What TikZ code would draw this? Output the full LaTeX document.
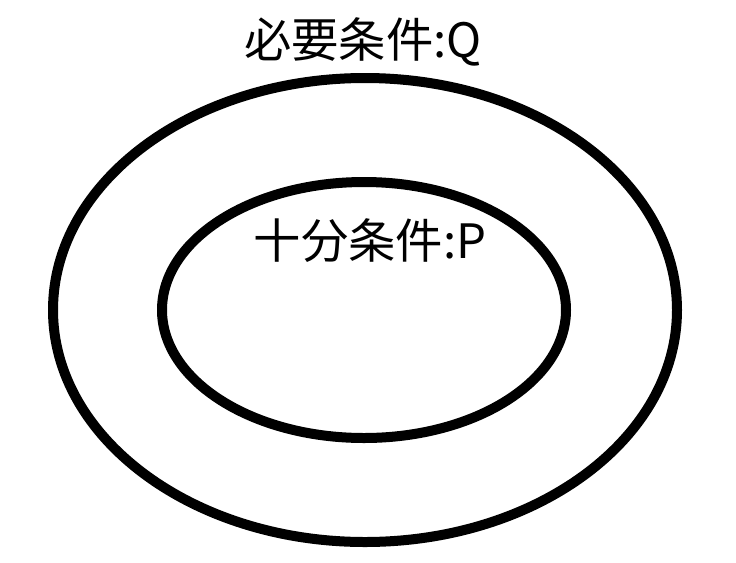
\documentclass[tikz,border=0pt]{standalone}
\usepackage{fontspec}
\setmainfont{Noto Sans CJK JP}
\usetikzlibrary{shapes.geometric}

\tikzset{
  ring/.style={draw, ellipse, line width=7.5pt, inner sep=0pt},
  setlabel/.style={inner sep=0pt, font=\fontsize{35.5}{40}\selectfont}
}

\begin{document}
\begin{tikzpicture}[x=0.75pt,y=-0.75pt]

    \useasboundingbox (0,0) rectangle (736,562);

    % Sets
    \node [ring, minimum width=468pt, minimum height=348pt] (Q) at (365,310) {};
    \node [ring, minimum width=303pt, minimum height=192pt] (P) at (364,310) {};

    % Labels
    \node [setlabel] (Qlabel) at (363,42) {必要条件:Q};
    \node [setlabel] (Plabel) at (370,241) {十分条件:P};

  \end{tikzpicture}
\end{document}
